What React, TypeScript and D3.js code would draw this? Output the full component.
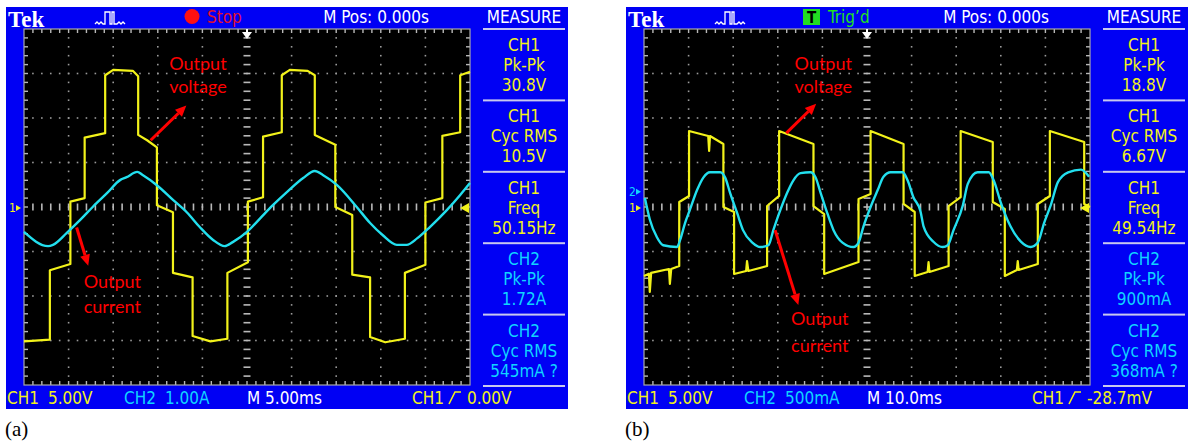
import React from 'react';
import * as d3 from 'd3';

// scope settings
const aTimePerDiv = 5; // ms/div
const bTimePerDiv = 10;
const aCh1PerDiv = 5; // V/div
const bCh1PerDiv = 5;
const aCh2PerDiv = 1; // A/div
const bCh2PerDiv = 0.5;
const aCh2Offset = 0; // ground marker, divisions above centre
const bCh2Offset = 0.34;

// (a) output voltage [ms, V]
const aVoltage = [
  [0, -15.1], [2.9, -14.9], [2.9, -7.1], [5.2, -6.4], [5.2, 0.6], [6.8, 1.0], [6.8, 7.8], [9.1, 8.3],
  [9.1, 14.8], [10.0, 15.4], [12.2, 15.3], [12.8, 14.7], [12.8, 8.1], [13.8, 7.5], [14.9, 6.7], [14.9, 0.2],
  [16.7, -0.6], [16.7, -7.4], [18.9, -7.9], [18.9, -14.5], [20.9, -15.1], [22.8, -14.8], [22.8, -7.4],
  [25.1, -6.2], [25.1, 0.6], [26.8, 1.1], [26.8, 7.9], [28.9, 8.4], [28.9, 14.8], [29.8, 15.4],
  [31.8, 15.3], [32.6, 14.8], [32.6, 8.1], [34.9, 7.0], [34.9, 0], [36.8, -0.9], [36.8, -7.6],
  [38.8, -7.9], [38.8, -14.6], [40.5, -15.2], [42.7, -14.8], [42.7, -7.4], [45.0, -6.5], [45.0, 0.5],
  [46.9, 1.0], [46.9, 8.0], [48.9, 8.4], [48.9, 14.8], [50, 15.2],
];

// (a) output current [ms, A]
const aCurrent = [
  [0, -0.56], [2.7, -0.88], [3.25, -0.85], [4.8, -0.58], [6.3, -0.29], [7.7, 0], [9.3, 0.31], [10.8, 0.61],
  [11.5, 0.67], [12.7, 0.79], [13.3, 0.72], [14.9, 0.49], [16.7, 0.16], [18.3, -0.13], [19.7, -0.45],
  [21.2, -0.74], [22.5, -0.88], [23.4, -0.79], [25.0, -0.56], [26.5, -0.25], [27.9, 0.04], [29.5, 0.34],
  [31.3, 0.65], [32.6, 0.81], [33.5, 0.72], [35.1, 0.49], [37.3, 0], [38.8, -0.36], [40.2, -0.63],
  [41.8, -0.85], [42.9, -0.85], [44.1, -0.7], [45.5, -0.45], [47.4, -0.07], [48.9, 0.27], [50, 0.54],
];

// (b) output voltage [ms, V]
const bVoltage = [
  [0, -7.75], [1.1, -7.5], [1.3, -9.55], [1.6, -7.4], [5.6, -6.97], [5.8, -8.65], [6.1, -6.97],
  [7.9, -6.63], [7.9, 0.56], [10.1, 1.24], [10.1, 8.54], [14.4, 7.98], [14.6, 6.29], [14.8, 7.98],
  [17.8, 7.08], [17.8, 0], [20.2, -0.56], [20.2, -7.53], [22.9, -7.19], [23.1, -6.07], [23.4, -7.19],
  [27.6, -6.63], [27.6, 0.11], [30.3, 1.24], [30.3, 8.54], [38.0, 7.08], [38.0, 0.11], [40.4, -0.79],
  [40.4, -7.53], [48.1, -6.18], [48.1, 0.9], [50.8, 1.46], [50.8, 8.54], [58.2, 7.08], [58.2, 0.34],
  [60.7, -0.56], [60.7, -7.75], [63.6, -7.3], [63.8, -6.18], [64.0, -7.3], [68.3, -6.63], [68.3, 0.11],
  [71.0, 1.12], [71.0, 8.54], [78.2, 7.3], [78.2, 0.56], [80.9, -0.22], [80.9, -7.75], [83.6, -7.08],
  [83.8, -6.07], [84.0, -7.08], [88.3, -6.4], [88.3, 0.34], [91.0, 1.24], [91.0, 8.54], [98.7, 7.3],
  [98.7, 0.34], [100, 0],
];

// (b) output current [ms, A]
const bCurrent = [
  [0.2, -0.07], [1.3, -0.31], [2.9, -0.51], [4.3, -0.6], [7.4, -0.62], [8.1, -0.54], [9.2, -0.35],
  [10.3, -0.2], [11.9, 0.02], [13.3, 0.16], [14.8, 0.22], [17.1, 0.22], [18.2, 0.16], [19.3, -0.01],
  [20.9, -0.24], [22.2, -0.43], [24.3, -0.57], [26.1, -0.62], [27.9, -0.6], [29.0, -0.43], [30.6, -0.2],
  [32.1, -0.01], [33.5, 0.13], [35.1, 0.21], [37.3, 0.22], [38.4, 0.17], [39.6, -0.01], [41.1, -0.24],
  [42.5, -0.43], [44.5, -0.57], [47.0, -0.62], [48.1, -0.57], [49.2, -0.39], [50.8, -0.17], [52.4, 0.02],
  [53.7, 0.17], [55.3, 0.22], [58.0, 0.22], [59.1, 0.13], [60.4, -0.06], [62.0, -0.22], [62.7, -0.39],
  [64.9, -0.56], [67.0, -0.62], [68.1, -0.6], [69.4, -0.43], [71.5, -0.15], [72.6, 0.09], [74.8, 0.22],
  [77.3, 0.22], [78.4, 0.13], [80.0, -0.12], [82.2, -0.39], [84.5, -0.56], [86.7, -0.62], [88.3, -0.57],
  [89.7, -0.35], [91.2, -0.15], [92.8, 0.11], [95.1, 0.22], [98.0, 0.25], [99.8, 0.17],
];

const measureNames = [['CH1', 'Pk-Pk'], ['CH1', 'Cyc RMS'], ['CH1', 'Freq'], ['CH2', 'Pk-Pk'], ['CH2', 'Cyc RMS']];
const aMeasureValues = ['30.8V', '10.5V', '50.15Hz', '1.72A', '545mA ?'];
const bMeasureValues = ['18.8V', '6.67V', '49.54Hz', '900mA', '368mA ?'];

const aStatusBar = ['5.00V', '1.00A', 'M 5.00ms', '0.00V'];
const bStatusBar = ['5.00V', '500mA', 'M 10.0ms', '-28.7mV'];

// annotations, in the panel's own units [ms, V of CH1]
const aNotes = [
  { lines: ['Output', 'voltage'], at: [19.5, 15.4], gap: -2.6, from: [14.2, 7.5], to: [18.2, 11.4] },
  { lines: ['Output', 'current'], at: [9.9, -9.1], gap: -2.8, from: [5.9, -2.3], to: [7.2, -6.6] },
];
const bNotes = [
  { lines: ['Output', 'voltage'], at: [40.2, 15.4], gap: -2.6, from: [31.9, 8.3], to: [38.6, 11.6] },
  { lines: ['Output', 'current'], at: [39.4, -13.3], gap: -3.0, from: [29.4, -2.6], to: [34.6, -11.0] },
];

const PLOT = { left: 24, right: 470, top: 29, bottom: 385 };
const FRAME = { left: 6, right: 568, top: 7, bottom: 409 };
const MEAS = { left: 483, right: 565, cx: 524 };

const BLUE = '#0000f4';
const YEL = '#f2f21a';
const CYAN = '#22dfee';
const CYAN_TXT = '#10d4ff';
const TEK_FONT = "'Liberation Sans Narrow', 'DejaVu Sans Condensed', Roboto, sans-serif";

const panels = [
  {
    dx: 0, label: '(a)', trig: false, timePerDiv: aTimePerDiv, ch1PerDiv: aCh1PerDiv, ch2PerDiv: aCh2PerDiv,
    ch2Offset: aCh2Offset, volt: aVoltage, curr: aCurrent, measures: aMeasureValues, status: aStatusBar, notes: aNotes,
  },
  {
    dx: 620, label: '(b)', trig: true, timePerDiv: bTimePerDiv, ch1PerDiv: bCh1PerDiv, ch2PerDiv: bCh2PerDiv,
    ch2Offset: bCh2Offset, volt: bVoltage, curr: bCurrent, measures: bMeasureValues, status: bStatusBar, notes: bNotes,
  },
];

function Arrow({ x1, y1, x2, y2 }) {
  const a = Math.atan2(y2 - y1, x2 - x1);
  const L = 11, Wd = 5;
  const bx = x2 - L * Math.cos(a), by = y2 - L * Math.sin(a);
  const px = -Math.sin(a) * Wd, py = Math.cos(a) * Wd;
  return (
    <g>
      <line x1={x1} y1={y1} x2={bx} y2={by} stroke="#ff0000" strokeWidth={3} />
      <polygon points={`${x2},${y2} ${bx + px},${by + py} ${bx - px},${by - py}`} fill="#ff0000" />
    </g>
  );
}

function Panel({ p }) {
  const x = d3.scaleLinear().domain([0, 10 * p.timePerDiv]).range([PLOT.left, PLOT.right]);
  const y1 = d3.scaleLinear().domain([-4 * p.ch1PerDiv, 4 * p.ch1PerDiv]).range([PLOT.bottom, PLOT.top]);
  const y2 = d3.scaleLinear()
    .domain([(-4 - p.ch2Offset) * p.ch2PerDiv, (4 - p.ch2Offset) * p.ch2PerDiv])
    .range([PLOT.bottom, PLOT.top]);
  const gx = d3.scaleLinear().domain([0, 10]).range([PLOT.left, PLOT.right]);
  const gy = d3.scaleLinear().domain([-4, 4]).range([PLOT.bottom, PLOT.top]);

  const vPath = d3.line().x((d) => x(d[0])).y((d) => y1(d[1]))(p.volt);
  const iPath = d3.line().x((d) => x(d[0])).y((d) => y2(d[1])).curve(d3.curveMonotoneX)(p.curr);

  const minorX = d3.range(1, 50).map((k) => gx(k / 5));
  const minorY = d3.range(1, 40).map((k) => gy(-4 + k / 5));
  const majorX = [1, 2, 3, 4, 6, 7, 8, 9].map((d) => gx(d));
  const majorY = [-3, -2, -1, 1, 2, 3].map((d) => gy(d));
  const cx = gx(5), cy = gy(0);
  const secH = (PLOT.bottom + 1 - PLOT.top) / 5;
  const ch2Y = y2(0);

  return (
    <g transform={`translate(${p.dx},0)`}>
      {/* blue bezel */}
      <rect x={FRAME.left} y={FRAME.top} width={FRAME.right - FRAME.left} height={FRAME.bottom - FRAME.top} fill={BLUE} />
      <rect x={PLOT.left} y={PLOT.top} width={PLOT.right - PLOT.left} height={PLOT.bottom - PLOT.top} fill="#000" />

      {/* graticule */}
      <g fill="#9a9a9a">
        {majorX.map((gxv, i) => minorY.map((yy, j) => <rect key={`v${i}-${j}`} x={gxv - 0.8} y={yy - 0.8} width={1.6} height={1.6} />))}
        {majorY.map((gyv, i) => minorX.map((xx, j) => <rect key={`h${i}-${j}`} x={xx - 0.8} y={gyv - 0.8} width={1.6} height={1.6} />))}
      </g>
      <g fill="#b8b8b8">
        {minorY.map((yy, j) => <rect key={`cv${j}`} x={cx - 3.5} y={yy - 0.8} width={7} height={1.6} />)}
        {minorX.map((xx, j) => <rect key={`ch${j}`} x={xx - 0.8} y={cy - 3.5} width={1.6} height={7} />)}
        {minorX.map((xx, j) => <rect key={`bt${j}`} x={xx - 0.7} y={PLOT.top} width={1.4} height={4} />)}
        {minorX.map((xx, j) => <rect key={`bb${j}`} x={xx - 0.7} y={PLOT.bottom - 4} width={1.4} height={4} />)}
        {minorY.map((yy, j) => <rect key={`bl${j}`} x={PLOT.left} y={yy - 0.7} width={4} height={1.4} />)}
        {minorY.map((yy, j) => <rect key={`br${j}`} x={PLOT.right - 4} y={yy - 0.7} width={4} height={1.4} />)}
      </g>
      <rect x={PLOT.left} y={PLOT.top} width={PLOT.right - PLOT.left} height={PLOT.bottom - PLOT.top}
        fill="none" stroke="#a8a8a8" strokeWidth={1.2} />

      {/* traces */}
      <path d={vPath} fill="none" stroke={YEL} strokeWidth={2.2} strokeLinejoin="round" />
      <path d={iPath} fill="none" stroke={CYAN} strokeWidth={2.4} strokeLinejoin="round" />

      {/* markers */}
      <path d={`M${cx - 5},${PLOT.top + 3} L${cx + 5},${PLOT.top + 3} L${cx},${PLOT.top + 10} Z`} fill="#fff" />
      <rect x={cx - 1} y={PLOT.top} width={2} height={4} fill="#fff" />
      <path d={`M${PLOT.right - 10},${y1(0) + 1} L${PLOT.right - 1},${y1(0) - 4} L${PLOT.right - 1},${y1(0) + 6} Z`} fill={YEL} />
      <g fontFamily={TEK_FONT} fontSize={12}>
        {p.ch2Offset !== 0 && (
          <g fill={CYAN_TXT}>
            <text x={9} y={ch2Y + 4}>2</text>
            <path d={`M16,${ch2Y - 3} L21,${ch2Y} L16,${ch2Y + 3} Z`} />
          </g>
        )}
        <g fill={YEL}>
          <text x={9} y={y1(0) + 5}>1</text>
          <path d={`M16,${y1(0) - 2} L21,${y1(0) + 1} L16,${y1(0) + 4} Z`} />
        </g>
      </g>

      {/* header */}
      <text x={8} y={27} fontFamily="'Liberation Serif', serif" fontWeight="bold" fontSize={23} fill="#fff">Tek</text>
      <path d="M95,24 L97,22 L99,24 L101,22 L103,24 L105,24 L105,12 L110,12 L110,24 L112,24 L112,12 L114,12 L114,24 L117,24 L119,22 L121,24 L123,22 L125,24"
        fill="none" stroke="#fff" strokeWidth={1.3} />
      {p.trig ? (
        <g>
          <rect x={183} y={9} width={17} height={16} fill="#22dd22" />
          <text x={191.5} y={23} textAnchor="middle" fontFamily={TEK_FONT} fontWeight="bold" fontSize={15} fill="#000">T</text>
          <text x={208} y={23} fontFamily={TEK_FONT} fontSize={17} fill="#22e022">Trig’d</text>
        </g>
      ) : (
        <g>
          <circle cx={192} cy={16.5} r={7.5} fill="#ff1010" />
          <text x={207} y={23} fontFamily={TEK_FONT} fontSize={17} fill="#e0102c">Stop</text>
        </g>
      )}
      <g fontFamily={TEK_FONT} fontSize={17} fill="#fff" textAnchor="middle">
        <text x={376} y={23}>M Pos: 0.000s</text>
        <text x={MEAS.cx} y={23}>MEASURE</text>
      </g>

      {/* measure column */}
      {d3.range(6).map((k) => (
        <rect key={`d${k}`} x={MEAS.left} y={PLOT.top + k * secH - 1} width={MEAS.right - MEAS.left} height={2} fill="#c8c8ee" />
      ))}
      <g fontFamily={TEK_FONT} fontSize={17} textAnchor="middle">
        {measureNames.map((nm, k) => {
          const top = PLOT.top + k * secH;
          const col = nm[0] === 'CH1' ? YEL : CYAN_TXT;
          return (
            <g key={`m${k}`} fill={col}>
              <text x={MEAS.cx} y={top + 22}>{nm[0]}</text>
              <text x={MEAS.cx} y={top + 42}>{nm[1]}</text>
              <text x={MEAS.cx} y={top + 62}>{p.measures[k]}</text>
            </g>
          );
        })}
      </g>

      {/* status bar */}
      <g fontFamily={TEK_FONT} fontSize={17}>
        <text x={7} y={404} fill={YEL}>CH1</text>
        <text x={48} y={404} fill={YEL}>{p.status[0]}</text>
        <text x={124} y={404} fill={CYAN_TXT}>CH2</text>
        <text x={165} y={404} fill={CYAN_TXT}>{p.status[1]}</text>
        <text x={247} y={404} fill="#fff">{p.status[2]}</text>
        <text x={412} y={404} fill={YEL}>CH1</text>
        <path d="M449,404 L455,392 L461,392" fill="none" stroke={YEL} strokeWidth={1.6} />
        <text x={467} y={404} fill={YEL}>{p.status[3]}</text>
      </g>

      {/* annotations */}
      <g fontFamily="Lato, 'Open Sans', sans-serif" fontSize={18} fill="#ff0000" textAnchor="middle">
        {p.notes.map((n, k) => (
          <g key={`n${k}`}>
            <text x={x(n.at[0])} y={y1(n.at[1])}>{n.lines[0]}</text>
            <text x={x(n.at[0])} y={y1(n.at[1] + n.gap)}>{n.lines[1]}</text>
            <Arrow x1={x(n.from[0])} y1={y1(n.from[1])} x2={x(n.to[0])} y2={y1(n.to[1])} />
          </g>
        ))}
      </g>

      <text x={5} y={436} fontFamily="'Liberation Serif', serif" fontSize={21} fill="#000">{p.label}</text>
    </g>
  );
}

export default function App() {
  return (
    <svg width={1190} height={441} style={{ position: 'absolute', left: 0, top: 0, background: '#fff' }}>
      {panels.map((p) => <Panel key={p.label} p={p} />)}
    </svg>
  );
}
